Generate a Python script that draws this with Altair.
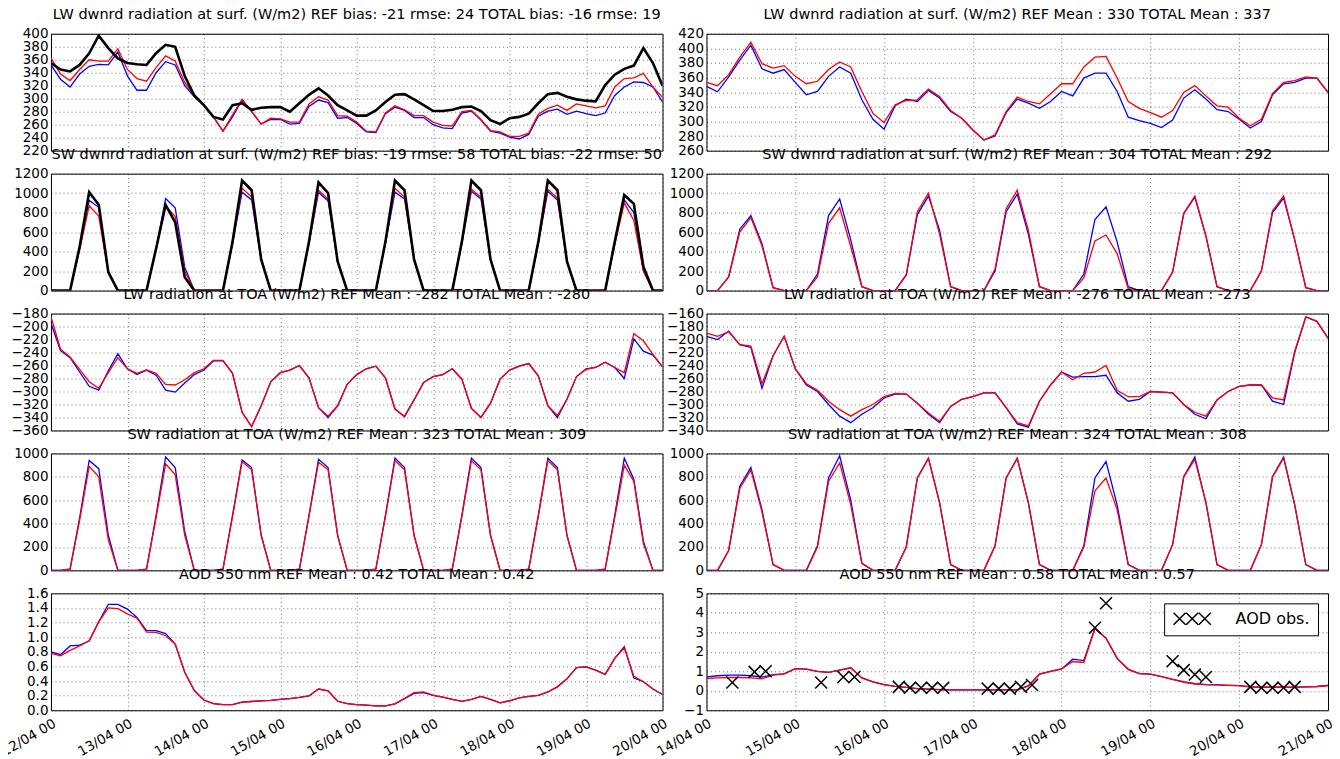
import altair as alt
import pandas as pd

FONT = "DejaVu Sans"
BLUE = "#0000ff"
RED = "#ff0000"
BLACK = "#000000"

# ---------------- time axes (3-hourly) ----------------
L_START = pd.Timestamp("2000-04-12 00:00")
R_START = pd.Timestamp("2000-04-14 00:00")
L_N = 65
R_N = 57

# ---------------- LEFT column data ----------------
L_LWD_REF = [352, 330, 318, 338, 350, 353, 352, 372, 335, 313, 313, 340, 357, 352, 320, 303, 290, 272, 250, 272,
             298, 280, 261, 268, 268, 261, 262, 288, 298, 294, 270, 271, 262, 249, 248, 277, 287, 282, 271, 271,
             260, 255, 254, 278, 281, 267, 250, 247, 241, 238, 245, 273, 281, 284, 276, 281, 277, 274, 278, 305,
             318, 326, 325, 318, 295]
L_LWD_TOT = [363, 338, 328, 345, 360, 358, 358, 377, 345, 331, 327, 348, 366, 358, 325, 305, 290, 272, 250, 275,
             299, 281, 261, 270, 269, 264, 264, 292, 303, 298, 274, 273, 264, 250, 249, 278, 289, 283, 274, 274,
             264, 259, 258, 280, 282, 268, 251, 249, 242, 242, 247, 276, 285, 290, 282, 292, 289, 286, 289, 318,
             331, 332, 339, 318, 302]
L_LWD_OBS = [355, 345, 342, 352, 370, 397, 378, 362, 355, 353, 352, 370, 383, 380, 335, 305, 290, 272, 268, 290,
             293, 283, 286, 287, 287, 280, 293, 306, 316, 305, 290, 282, 274, 274, 282, 295, 306, 307, 299, 290,
             281, 281, 283, 287, 288, 281, 267, 261, 270, 272, 277, 293, 307, 309, 303, 299, 297, 296, 321, 337,
             346, 351, 378, 355, 320]

L_SWD_REF = [0, 0, 0, 430, 925, 855, 200, 0, 0, 0, 0, 430, 945, 850, 240, 0,
             0, 0, 0, 480, 1010, 930, 320, 0, 0, 0, 0, 480, 1010, 920, 300, 0,
             0, 0, 0, 480, 1010, 940, 320, 0, 0, 0, 0, 480, 1020, 940, 320, 0,
             0, 0, 0, 480, 1020, 930, 300, 0, 0, 0, 0, 480, 930, 800, 200, 0, 0]
L_SWD_TOT = [0, 0, 0, 420, 870, 765, 180, 0, 0, 0, 0, 420, 870, 760, 200, 0,
             0, 0, 0, 490, 1050, 960, 320, 0, 0, 0, 0, 490, 1030, 940, 300, 0,
             0, 0, 0, 490, 1050, 960, 320, 0, 0, 0, 0, 490, 1040, 960, 320, 0,
             0, 0, 0, 490, 1040, 950, 300, 0, 0, 0, 0, 470, 900, 720, 200, 0, 0]
L_SWD_OBS = [0, 0, 0, 450, 1010, 880, 190, 0, 0, 0, 0, 430, 880, 700, 137, 0,
             0, 0, 0, 500, 1130, 1030, 320, 0, 0, 0, 0, 500, 1110, 1000, 300, 0,
             0, 0, 0, 500, 1130, 1030, 320, 0, 0, 0, 0, 500, 1130, 1030, 320, 0,
             0, 0, 0, 500, 1130, 1030, 300, 0, 0, 0, 0, 500, 980, 890, 245, 0, 0]

L_LWT_REF = [-195, -237, -248, -270, -292, -298, -268, -242, -265, -274, -267, -275, -298, -301, -287, -274,
             -267, -253, -253, -272, -332, -354, -322, -285, -271, -267, -260, -279, -325, -340, -322, -289,
             -274, -265, -261, -279, -327, -339, -313, -286, -277, -274, -265, -281, -326, -340, -318, -281,
             -267, -261, -257, -276, -322, -340, -312, -277, -265, -263, -255, -263, -280, -219, -238, -244, -262]
L_LWT_TOT = [-185, -235, -247, -266, -285, -295, -271, -248, -265, -272, -267, -272, -289, -290, -282, -271,
             -265, -252, -252, -272, -332, -354, -322, -285, -271, -267, -260, -279, -325, -338, -322, -289,
             -274, -265, -261, -279, -327, -338, -313, -286, -277, -274, -265, -281, -326, -340, -318, -281,
             -267, -261, -257, -276, -322, -337, -312, -277, -266, -263, -255, -263, -271, -211, -222, -243, -262]

L_SWT_REF = [0, 0, 10, 450, 940, 870, 300, 0, 0, 0, 10, 470, 970, 880, 330, 0,
             0, 0, 10, 470, 945, 880, 300, 0, 0, 0, 10, 470, 950, 880, 300, 0,
             0, 0, 10, 470, 960, 880, 300, 0, 0, 0, 10, 470, 960, 880, 300, 0,
             0, 0, 10, 470, 960, 880, 300, 0, 0, 0, 10, 470, 960, 780, 250, 0, 0]
L_SWT_TOT = [0, 0, 10, 430, 890, 800, 260, 0, 0, 0, 10, 450, 910, 820, 300, 0,
             0, 0, 10, 460, 930, 860, 300, 0, 0, 0, 10, 460, 925, 860, 300, 0,
             0, 0, 10, 460, 940, 860, 300, 0, 0, 0, 10, 460, 940, 860, 300, 0,
             0, 0, 10, 460, 940, 860, 300, 0, 0, 0, 10, 450, 900, 760, 230, 0, 0]

L_AOD_REF = [0.80, 0.76, 0.88, 0.89, 0.95, 1.21, 1.45, 1.45, 1.385, 1.27, 1.09, 1.09, 1.05, 0.905, 0.52, 0.27,
             0.14, 0.09, 0.078, 0.078, 0.11, 0.12, 0.13, 0.135, 0.15, 0.16, 0.175, 0.195, 0.29, 0.265, 0.123,
             0.09, 0.078, 0.07, 0.06, 0.06, 0.087, 0.16, 0.23, 0.24, 0.205, 0.18, 0.15, 0.123, 0.15, 0.19, 0.15,
             0.10, 0.13, 0.17, 0.19, 0.205, 0.25, 0.32, 0.43, 0.585, 0.594, 0.55, 0.49, 0.71, 0.87, 0.44, 0.39,
             0.29, 0.215]
L_AOD_TOT = [0.78, 0.745, 0.82, 0.88, 0.95, 1.21, 1.40, 1.39, 1.32, 1.26, 1.07, 1.065, 1.02, 0.905, 0.52, 0.27,
             0.14, 0.09, 0.078, 0.078, 0.11, 0.12, 0.13, 0.135, 0.15, 0.16, 0.175, 0.195, 0.29, 0.265, 0.123,
             0.09, 0.078, 0.07, 0.06, 0.06, 0.087, 0.16, 0.24, 0.25, 0.205, 0.18, 0.15, 0.123, 0.15, 0.19, 0.15,
             0.10, 0.13, 0.17, 0.19, 0.205, 0.25, 0.32, 0.43, 0.585, 0.594, 0.55, 0.49, 0.71, 0.855, 0.466, 0.39,
             0.29, 0.215]

# ---------------- RIGHT column data ----------------
R_LWD_REF = [348, 340.6, 361, 384, 404.4, 372, 366, 371, 353.5, 336.5, 341, 361.7, 374.6, 366, 329.6, 303,
             289.3, 321.4, 330.6, 327.3, 342.5, 332, 313.6, 304.4, 288.3, 274.6, 280, 312, 330.6, 325, 318,
             327.3, 341, 335, 359.4, 366, 366, 341, 305.8, 301, 297.5, 291.6, 302, 332, 343.4, 330.6, 316,
             313.6, 303, 291, 300, 336.5, 351.6, 353.5, 359.4, 359.4, 339.7]
R_LWD_TOT = [353.5, 349, 364, 388, 408.5, 379, 373, 376.4, 361.7, 351.6, 355, 371, 381.5, 374.6, 341, 311,
             298.4, 322.7, 328.7, 329.6, 344.3, 334.2, 315, 304.4, 288.3, 274.6, 281.5, 313.6, 333.3, 327.3, 324,
             338, 351.6, 351.6, 374.6, 388, 389, 359.4, 327.3, 318, 312, 305.8, 315, 339.7, 349, 335, 321.4,
             319.5, 304.4, 294, 303, 338, 353.5, 356, 361, 359.4, 339.7]

R_SWD_REF = [0, 0, 140, 630, 770, 480, 30, 0, 0, 0, 170, 770, 940, 520, 40, 0,
             0, 0, 160, 780, 970, 620, 40, 0, 0, 0, 200, 810, 990, 580, 40, 0,
             0, 0, 170, 730, 860, 500, 40, 0, 0, 0, 190, 790, 960, 560, 40, 0,
             0, 0, 200, 800, 950, 520, 30, 0, 0]
R_SWD_TOT = [0, 0, 140, 600, 750, 460, 30, 0, 0, 0, 140, 690, 850, 450, 40, 0,
             0, 0, 160, 810, 1000, 580, 40, 0, 0, 0, 220, 840, 1030, 620, 40, 0,
             0, 0, 130, 510, 570, 380, 20, 0, 0, 0, 190, 790, 970, 560, 40, 0,
             0, 0, 200, 820, 970, 520, 30, 0, 0]

R_LWT_REF = [-195, -200, -187, -208, -212, -275, -225, -195, -245, -270, -280, -300, -318, -328, -315, -305,
             -290, -284, -284, -298, -315, -328, -303, -292, -288, -282, -282, -305, -330, -335, -295, -270,
             -250, -258, -257, -257, -255, -282, -295, -292, -280, -281, -282, -300, -315, -322, -293, -280,
             -272, -270, -270, -295, -300, -220, -165, -172, -198]
R_LWT_TOT = [-190, -195, -188, -208, -210, -268, -225, -195, -245, -268, -278, -295, -308, -318, -308, -300,
             -288, -283, -284, -298, -313, -326, -303, -292, -288, -282, -282, -305, -328, -333, -295, -270,
             -250, -262, -252, -250, -240, -278, -288, -288, -280, -281, -282, -300, -312, -318, -293, -280,
             -272, -270, -270, -290, -293, -218, -165, -172, -198]

R_SWT_REF = [0, 0, 170, 720, 880, 520, 50, 0, 0, 0, 210, 790, 980, 600, 60, 0,
             0, 0, 200, 790, 960, 580, 50, 0, 0, 0, 210, 790, 960, 580, 50, 0,
             0, 0, 210, 790, 930, 560, 50, 0, 0, 0, 220, 800, 970, 580, 50, 0,
             0, 0, 220, 800, 970, 560, 50, 0, 0]
R_SWT_TOT = [0, 0, 170, 700, 860, 500, 50, 0, 0, 0, 200, 760, 920, 560, 60, 0,
             0, 0, 200, 790, 960, 580, 50, 0, 0, 0, 210, 790, 960, 580, 50, 0,
             0, 0, 200, 680, 790, 520, 50, 0, 0, 0, 220, 800, 950, 580, 50, 0,
             0, 0, 220, 800, 960, 560, 50, 0, 0]

R_AOD_REF = [0.71, 0.77, 0.80, 0.80, 0.77, 0.70, 0.83, 0.87, 1.14, 1.11, 1.00, 0.94, 1.06, 1.18, 0.66, 0.46,
             0.32, 0.23, 0.17, 0.11, 0.08, 0.06, 0.05, 0.05, 0.05, 0.05, 0.05, 0.05, 0.05, 0.25, 0.85, 1.0,
             1.12, 1.62, 1.55, 3.2, 2.7, 1.66, 1.1, 0.88, 0.85, 0.72, 0.58, 0.45, 0.36, 0.32, 0.30, 0.28,
             0.26, 0.2, 0.18, 0.18, 0.18, 0.19, 0.2, 0.22, 0.27]
R_AOD_TOT = [0.63, 0.66, 0.68, 0.68, 0.66, 0.61, 0.80, 0.87, 1.14, 1.11, 1.00, 0.94, 1.06, 1.18, 0.66, 0.46,
             0.32, 0.23, 0.17, 0.11, 0.08, 0.06, 0.05, 0.05, 0.05, 0.05, 0.05, 0.05, 0.05, 0.25, 0.85, 1.0,
             1.12, 1.5, 1.45, 3.2, 2.7, 1.66, 1.1, 0.88, 0.85, 0.72, 0.58, 0.45, 0.36, 0.32, 0.30, 0.28,
             0.26, 0.2, 0.18, 0.18, 0.18, 0.19, 0.2, 0.22, 0.27]

# AOD observations: hours after 14/04 00 and values
AOD_OBS_HOURS = [7, 13, 16, 31, 37, 40, 52, 55, 58, 61, 64, 76, 79, 82, 85, 88, 105, 108,
                 126, 129, 132, 135, 147, 150, 153, 156, 159]
AOD_OBS_VALS = [0.42, 0.97, 1.0, 0.42, 0.71, 0.71, 0.2, 0.15, 0.15, 0.15, 0.15, 0.11, 0.11, 0.11, 0.2, 0.3,
                3.23, 4.49, 1.52, 1.06, 0.83, 0.71, 0.2, 0.15, 0.15, 0.15, 0.2]

# ---------------- titles ----------------
L_TITLES = [
    "LW dwnrd radiation at surf. (W/m2) REF bias: -21 rmse: 24 TOTAL bias: -16 rmse: 19",
    "SW dwnrd radiation at surf. (W/m2) REF bias: -19 rmse: 58 TOTAL bias: -22 rmse: 50",
    "LW radiation at TOA (W/m2) REF Mean : -282 TOTAL Mean : -280",
    "SW radiation at TOA (W/m2) REF Mean : 323 TOTAL Mean : 309",
    "AOD 550 nm REF Mean : 0.42 TOTAL Mean : 0.42",
]
R_TITLES = [
    "LW dwnrd radiation at surf. (W/m2) REF Mean : 330 TOTAL Mean : 337",
    "SW dwnrd radiation at surf. (W/m2) REF Mean : 304 TOTAL Mean : 292",
    "LW radiation at TOA (W/m2) REF Mean : -276 TOTAL Mean : -273",
    "SW radiation at TOA (W/m2) REF Mean : 324 TOTAL Mean : 308",
    "AOD 550 nm REF Mean : 0.58 TOTAL Mean : 0.57",
]

XCROSS = "M-1,-1L1,1M-1,1L1,-1"
XXX = "M-1,-1L1,1M-1,1L1,-1M1.1,-1L3.1,1M1.1,1L3.1,-1M3.2,-1L5.2,1M3.2,1L5.2,-1"

L_W, R_W, H = 612, 622, 117
TICK_FS = 13.5


def iso(ts):
    return ts.strftime("%Y-%m-%dT%H:%M:%SZ")


def times(start, n):
    return [iso(start + pd.Timedelta(hours=3 * i)) for i in range(n)]


def dt(day):
    return alt.DateTime(year=2000, month=4, date=day, hours=0, utc=True)


def panel(start, n, days, series, ydom, yvals, yfmt, title, width, bottom, obs=None):
    tt = times(start, n)
    x = alt.X(
        "t:T",
        title=None,
        scale=alt.Scale(type="utc", domain=[dt(days[0]), dt(days[-1])], nice=False),
        axis=alt.Axis(
            values=[dt(d) for d in days], format="%d/%m %H", labels=bottom, ticks=False,
            domain=False, grid=True, labelAngle=-30, labelAlign="right", labelBaseline="top",
            labelPadding=6, labelFontSize=TICK_FS, labelOverlap=False, labelFlush=False, labelBound=False,
        ),
    )
    y = alt.Y(
        "v:Q",
        title=None,
        scale=alt.Scale(domain=ydom, nice=False, zero=False),
        axis=alt.Axis(values=yvals, format=yfmt, ticks=False, domain=False, grid=True,
                      labelFontSize=TICK_FS, labelPadding=3, minExtent=40, maxExtent=40,
                      labelOverlap=False, labelFlush=False),
    )
    layers = []
    for vals, color, sw in series:
        df = pd.DataFrame({"t": tt, "v": vals})
        layers.append(alt.Chart(df).mark_line(color=color, strokeWidth=sw, clip=True).encode(x=x, y=y))
    if obs is not None:
        hours, vals = obs
        odf = pd.DataFrame({"t": [iso(start + pd.Timedelta(hours=h)) for h in hours], "v": vals,
                            "k": ["AOD obs."] * len(vals)})
        layers.append(
            alt.Chart(odf).mark_point(shape=XCROSS, filled=False, size=144, strokeWidth=1.5, opacity=1).encode(
                x=x, y=y,
                color=alt.Color("k:N", scale=alt.Scale(domain=["AOD obs."], range=[BLACK]),
                                legend=alt.Legend(title=None, orient="top-right", offset=10, padding=7.5,
                                                  strokeColor="black", fillColor="white", cornerRadius=0,
                                                  labelFont=FONT, labelFontSize=16, labelColor="black",
                                                  symbolType=XXX, symbolSize=144, symbolStrokeWidth=1.5,
                                                  symbolStrokeColor="black", labelOffset=48)),
            )
        )
    return alt.layer(*layers).properties(
        width=width, height=H,
        title=alt.TitleParams(title, frame="group", anchor="middle"),
    )


L_DAYS = list(range(12, 21))
R_DAYS = list(range(14, 22))

left = [
    panel(L_START, L_N, L_DAYS, [(L_LWD_REF, BLUE, 1.3), (L_LWD_TOT, RED, 1.3), (L_LWD_OBS, BLACK, 2.6)],
          [220, 400], list(range(220, 401, 20)), "d", L_TITLES[0], L_W, False),
    panel(L_START, L_N, L_DAYS, [(L_SWD_REF, BLUE, 1.3), (L_SWD_TOT, RED, 1.3), (L_SWD_OBS, BLACK, 2.6)],
          [0, 1200], list(range(0, 1201, 200)), "d", L_TITLES[1], L_W, False),
    panel(L_START, L_N, L_DAYS, [(L_LWT_REF, BLUE, 1.3), (L_LWT_TOT, RED, 1.3)],
          [-360, -180], list(range(-360, -179, 20)), "d", L_TITLES[2], L_W, False),
    panel(L_START, L_N, L_DAYS, [(L_SWT_REF, BLUE, 1.3), (L_SWT_TOT, RED, 1.3)],
          [0, 1000], list(range(0, 1001, 200)), "d", L_TITLES[3], L_W, False),
    panel(L_START, L_N, L_DAYS, [(L_AOD_REF, BLUE, 1.3), (L_AOD_TOT, RED, 1.3)],
          [0, 1.6], [i / 10 for i in range(0, 17, 2)], ".1f", L_TITLES[4], L_W, True),
]
right = [
    panel(R_START, R_N, R_DAYS, [(R_LWD_REF, BLUE, 1.3), (R_LWD_TOT, RED, 1.3)],
          [260, 420], list(range(260, 421, 20)), "d", R_TITLES[0], R_W, False),
    panel(R_START, R_N, R_DAYS, [(R_SWD_REF, BLUE, 1.3), (R_SWD_TOT, RED, 1.3)],
          [0, 1200], list(range(0, 1201, 200)), "d", R_TITLES[1], R_W, False),
    panel(R_START, R_N, R_DAYS, [(R_LWT_REF, BLUE, 1.3), (R_LWT_TOT, RED, 1.3)],
          [-340, -160], list(range(-340, -159, 20)), "d", R_TITLES[2], R_W, False),
    panel(R_START, R_N, R_DAYS, [(R_SWT_REF, BLUE, 1.3), (R_SWT_TOT, RED, 1.3)],
          [0, 1000], list(range(0, 1001, 200)), "d", R_TITLES[3], R_W, False),
    panel(R_START, R_N, R_DAYS, [(R_AOD_REF, BLUE, 1.3), (R_AOD_TOT, RED, 1.3)],
          [-1, 5], list(range(-1, 6)), "d", R_TITLES[4], R_W, True,
          obs=(AOD_OBS_HOURS, AOD_OBS_VALS)),
]

cells = []
for lp, rp in zip(left, right):
    cells.extend([lp, rp])

chart = alt.concat(
    *cells, columns=2, spacing={"row": 23, "column": 44}, bounds="flush", align="each",
).resolve_scale(x="independent", y="independent").resolve_legend(color="independent").properties(
    padding={"left": -10, "top": -1.5, "right": -4, "bottom": 0},
).configure_view(
    stroke="black", strokeWidth=1,
).configure_axis(
    labelFont=FONT, labelColor="black", gridColor="#000000", gridDash=[1, 3], gridWidth=0.7,
    gridOpacity=0.8,
).configure_title(
    font=FONT, fontSize=14.5, fontWeight="normal", color="black", offset=0,
)

chart.save("out.html", embed_options={"renderer": "svg", "actions": False})
